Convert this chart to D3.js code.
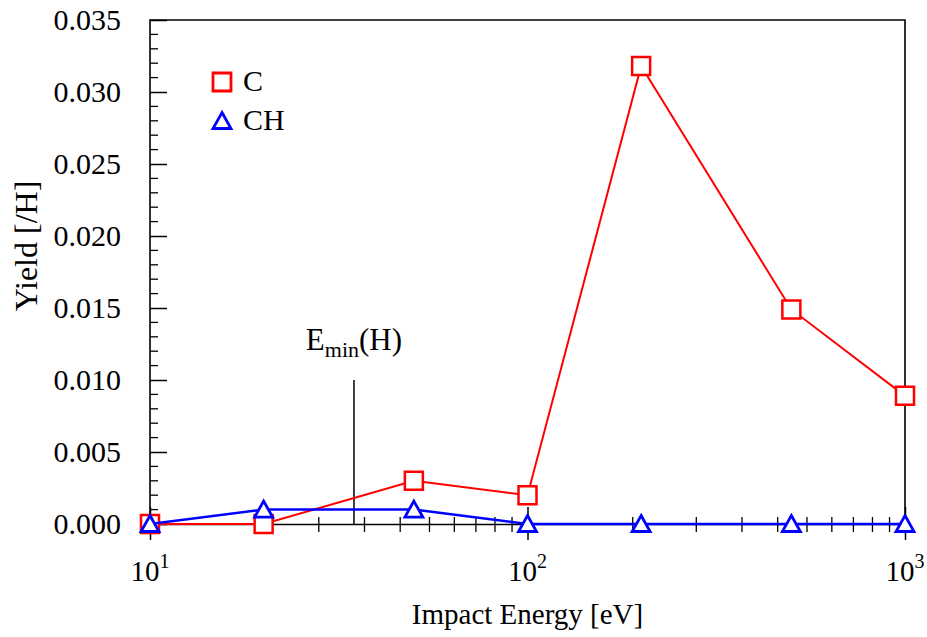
<!DOCTYPE html>
<html>
<head>
<meta charset="utf-8">
<script src="https://cdn.jsdelivr.net/npm/d3@7"></script>
<style>
  html, body { margin: 0; padding: 0; background: #fff; }
  svg { display: block; }
  svg text { font-family: "Liberation Serif", "Times New Roman", serif !important; }
</style>
</head>
<body>
<svg id="chart" width="927" height="637"></svg>
<script>
// Impact energies [eV] and yields per incident H
const energies = [10, 20, 50, 100, 200, 500, 1000];
const yieldC   = [0, 0, 0.003, 0.002, 0.0318, 0.0149, 0.0089];
const yieldCH  = [0, 0.001, 0.001, 0, 0, 0, 0];

// Threshold energy marker
const eMin = 34.7;

// Axis ticks
const xMajorTicks = [10, 100, 1000];
const xMinorFactors = [1.9, 2.8, 3.7, 4.6, 5.5, 6.4, 7.3, 8.2, 9.1];
const yMajorTicks = [0, 0.005, 0.010, 0.015, 0.020, 0.025, 0.030, 0.035];
const yMinorTicks = d3.range(0, 36).map(i => i / 1000).filter(v => Math.round(v * 1000) % 5 !== 0);

const svg = d3.select("#chart");
const W = 927, H = 637;
const m = { left: 150, right: 22, top: 20, bottom: 113 };
const x0 = m.left, x1 = W - m.right, y0 = H - m.bottom, y1 = m.top;

const x = d3.scaleLog().domain([10, 1000]).range([x0, x1]);
const y = d3.scaleLinear().domain([0, 0.035]).range([y0, y1]);

const black = "#000";

// Frame (left, top, right) and baseline
svg.append("path")
  .attr("d", `M${x0},${y0}V${y1}H${x1}V${y0}`)
  .attr("fill", "none").attr("stroke", black).attr("stroke-width", 1.6);

// Y axis: inward ticks
const yAxis = svg.append("g").attr("transform", `translate(${x0},0)`)
  .call(d3.axisLeft(y).tickValues(yMajorTicks).tickFormat(d3.format(".3f"))
    .tickSizeInner(-17).tickSizeOuter(0).tickPadding(29));
yAxis.select(".domain").remove();
yAxis.selectAll(".tick line").attr("stroke", black).attr("stroke-width", 1.5);
yAxis.selectAll(".tick text").attr("font-size", 30).attr("fill", black);

svg.append("g").selectAll("line").data(yMinorTicks).join("line")
  .attr("x1", x0).attr("x2", x0 + 8)
  .attr("y1", d => y(d)).attr("y2", d => y(d))
  .attr("stroke", black).attr("stroke-width", 1.3);

// X axis: ticks crossing the baseline
const xAxis = svg.append("g").attr("transform", `translate(0,${y0})`)
  .call(d3.axisBottom(x).tickValues(xMajorTicks).tickFormat("").tickSizeOuter(0));
xAxis.select(".domain").attr("stroke", black).attr("stroke-width", 1.6);
xAxis.selectAll(".tick line").attr("y1", -17).attr("y2", 16)
  .attr("stroke", black).attr("stroke-width", 1.5);

const xMinorTicks = [];
[10, 100].forEach(dec => xMinorFactors.forEach(f => xMinorTicks.push(dec * f)));
svg.append("g").selectAll("line").data(xMinorTicks).join("line")
  .attr("x1", d => x(d)).attr("x2", d => x(d))
  .attr("y1", y0 - 7).attr("y2", y0 + 8)
  .attr("stroke", black).attr("stroke-width", 1.3);

// Power-of-ten labels
const xl = svg.append("g").selectAll("text").data(xMajorTicks).join("text")
  .attr("x", d => x(d)).attr("y", 581)
  .attr("text-anchor", "middle").attr("font-size", 29).attr("fill", black);
xl.append("tspan").text("10");
xl.append("tspan").attr("font-size", 20).attr("dy", -13).text(d => Math.round(Math.log10(d)));

// Axis titles
svg.append("text").attr("x", (x0 + x1) / 2).attr("y", 624)
  .attr("text-anchor", "middle").attr("font-size", 29).attr("fill", black)
  .text("Impact Energy [eV]");
svg.append("text").attr("transform", "translate(37,246) rotate(-90)")
  .attr("text-anchor", "middle").attr("font-size", 32).attr("fill", black)
  .text("Yield [/H]");

// Threshold line and label
svg.append("line").attr("x1", x(eMin)).attr("x2", x(eMin))
  .attr("y1", 380).attr("y2", y0).attr("stroke", black).attr("stroke-width", 1.5);
const el = svg.append("text").attr("x", x(eMin)).attr("y", 350)
  .attr("text-anchor", "middle").attr("font-size", 31).attr("fill", black);
el.append("tspan").text("E");
el.append("tspan").attr("font-size", 22).attr("dy", 7).text("min");
el.append("tspan").attr("dy", -7).text("(H)");

// Marker shapes
const squarePath = "M-9,-9H9V9H-9Z";
const trianglePath = "M0,-8.5L9,7.5H-9Z";

const red = "#ff0000", blue = "#0000ff";
const ptsC = energies.map((e, i) => [e, yieldC[i]]);
const ptsCH = energies.map((e, i) => [e, yieldCH[i]]);
const line = d3.line().x(d => x(d[0])).y(d => y(d[1]));

// Series C
svg.append("path").datum(ptsC).attr("d", line)
  .attr("fill", "none").attr("stroke", red).attr("stroke-width", 2);
svg.append("g").selectAll("path").data(ptsC).join("path")
  .attr("d", squarePath)
  .attr("transform", d => `translate(${x(d[0])},${y(d[1])})`)
  .attr("fill", "#fff").attr("stroke", red).attr("stroke-width", 2.5);

// Series CH
svg.append("path").datum(ptsCH).attr("d", line)
  .attr("fill", "none").attr("stroke", blue).attr("stroke-width", 2.5);
svg.append("g").selectAll("path").data(ptsCH).join("path")
  .attr("d", trianglePath)
  .attr("transform", d => `translate(${x(d[0])},${y(d[1])})`)
  .attr("fill", "#fff").attr("stroke", blue).attr("stroke-width", 2.8);

// Legend
const legend = [
  { name: "C", color: red, shape: squarePath, cy: 82, ty: 91 },
  { name: "CH", color: blue, shape: trianglePath, cy: 121, ty: 130 }
];
const lg = svg.append("g").selectAll("g").data(legend).join("g");
lg.append("path").attr("d", d => d.shape)
  .attr("transform", d => `translate(222,${d.cy})`)
  .attr("fill", "#fff").attr("stroke", d => d.color).attr("stroke-width", 2.8);
lg.append("text").attr("x", 243).attr("y", d => d.ty)
  .attr("font-size", 30).attr("fill", black).text(d => d.name);
</script>
</body>
</html>
